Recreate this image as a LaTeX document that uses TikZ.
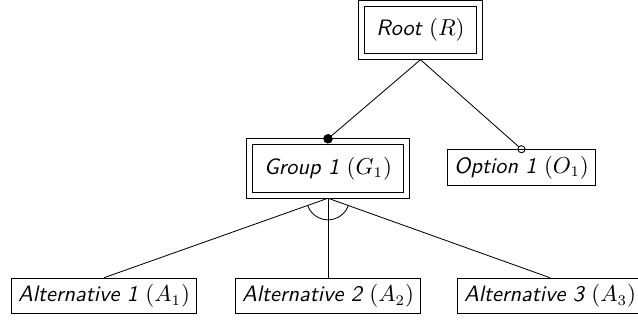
\documentclass[tikz,border=0pt]{standalone}
\usetikzlibrary{shapes,arrows.meta}

\tikzset{
  feature/.style={draw, font=\fontsize{10.6}{12.7}\selectfont\sffamily\itshape, inner sep=3pt, minimum height=17pt},
  compound/.style={feature, inner xsep=5.6pt, minimum height=22.5pt, outer sep=2.9pt},
}

\begin{document}
\begin{tikzpicture}[x=0.476pt, y=0.476pt]
\useasboundingbox (0,0) rectangle (638,320);
\node[compound] (root) at (420.5,290) {Root $(R)$};
\node[compound] (group) at (328,151.5) {Group 1 $(G_1)$};
\node[feature] (option) at (521.5,152.5) {Option 1 $(O_1)$};
\foreach \i/\x in {1/104,2/328,3/550} {
    \node[feature] (alt\i) at (\x,24) {Alternative \i{} $(A_\i)$};
}
% outer frames of the compound features
\foreach \n in {root,group} {
    \draw (\n.south west) rectangle (\n.north east);
}
% mandatory and optional children of the root
\draw [-{Circle[length=4.5pt]}, shorten >=-2.25pt] (root.south) -- (group.north);
\draw [-{Circle[open, length=3.8pt]}, shorten >=-1.9pt] (root.south) -- (option.north);
% alternatives of the group
\foreach \i in {1,2,3} {
    \draw (group.south) -- (alt\i.north);
}
\draw ([shift={(200:10.3pt)}]group.south) arc (200:340:10.3pt);
\end{tikzpicture}
\end{document}
